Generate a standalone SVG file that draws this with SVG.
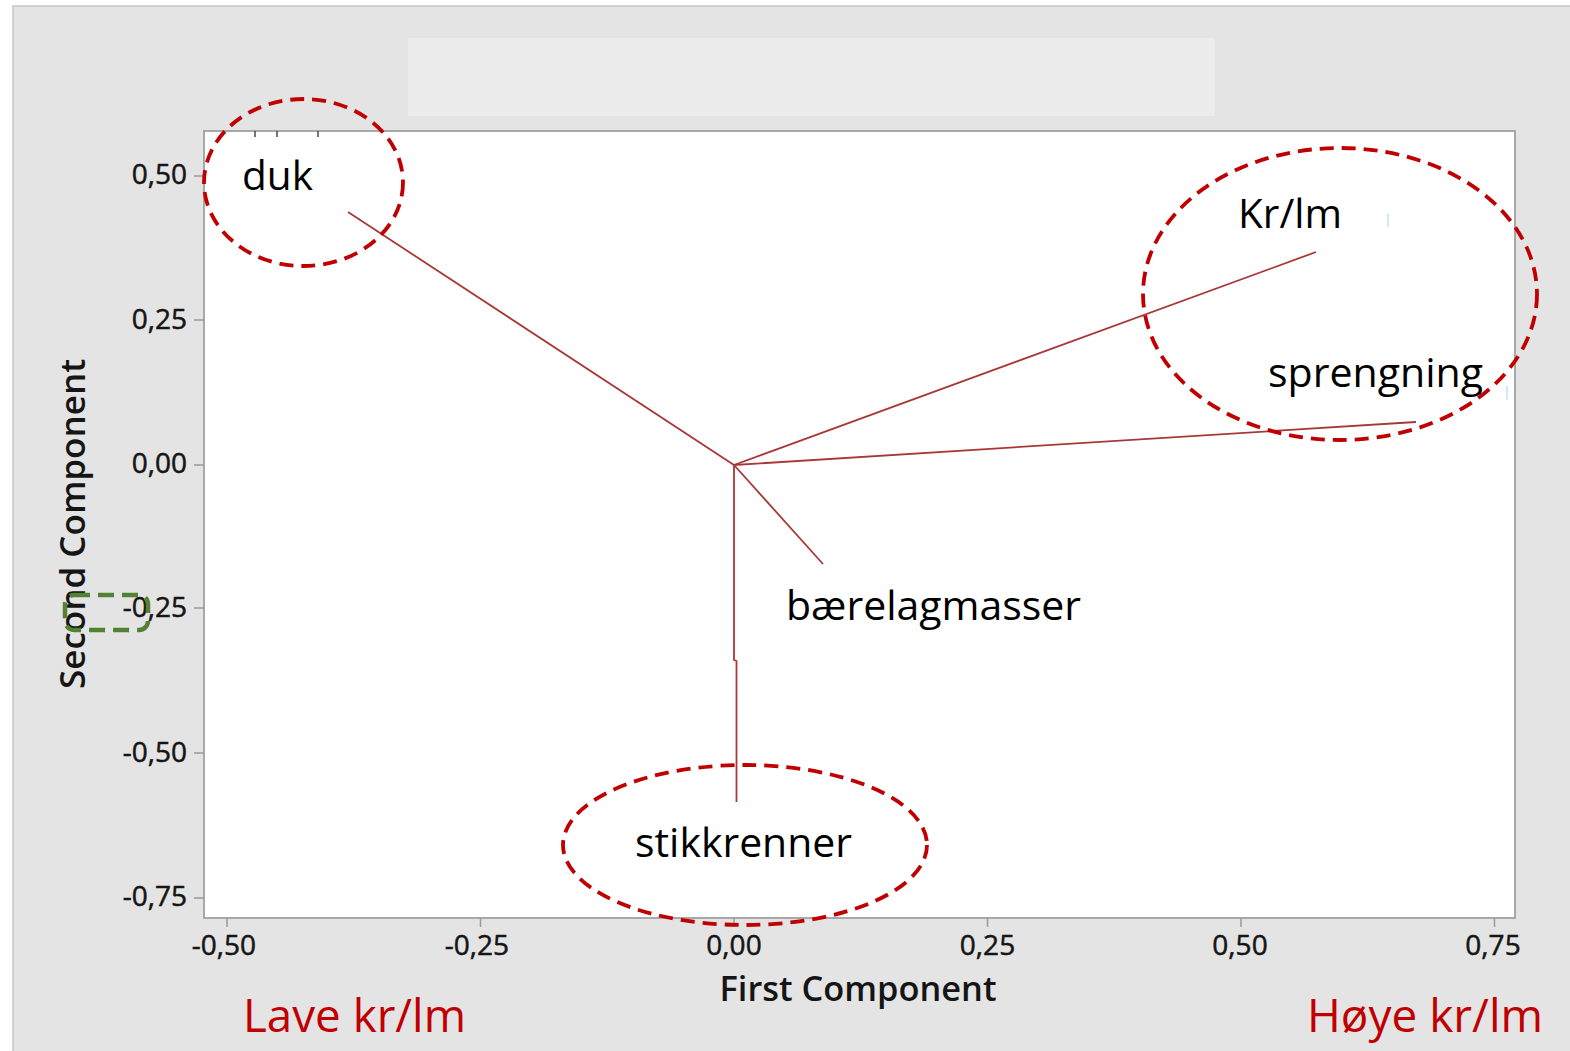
<svg xmlns="http://www.w3.org/2000/svg" width="1570" height="1051" viewBox="0 0 1570 1051">
<style>
.tick{stroke:#9a9a9a;stroke-width:1.5;fill:none}
.tl{font-family:"Open Sans","DejaVu Sans",sans-serif;font-size:28px;fill:#151515;stroke:#151515;stroke-width:0.5}
.tly{text-anchor:end}
.tlx{text-anchor:middle}
.axt{font-family:"Open Sans","DejaVu Sans",sans-serif;font-size:34px;font-weight:600;fill:#151515}
.load{stroke:#a83838;stroke-width:1.8;fill:none}
.lab{font-family:"Open Sans","Lato","DejaVu Sans",sans-serif;font-size:40px;fill:#000}
.ell{fill:none;stroke:#c00000;stroke-width:3.8;stroke-dasharray:14 8}
.red{font-family:"Open Sans","Lato","DejaVu Sans",sans-serif;font-size:45px;fill:#c00000}
</style>
<rect x="0" y="0" width="1570" height="1051" fill="#ffffff"/>
<rect x="13" y="6" width="1570" height="1060" fill="#e4e4e4" stroke="#c8c8c8" stroke-width="1.5"/>
<rect x="408" y="38" width="807" height="78" fill="#ececec"/>
<rect id="plotarea" x="204" y="131" width="1311" height="787" fill="#ffffff" stroke="#a0a0a0" stroke-width="1.8"/>
<g id="artifacts" stroke="#4a3f6e" stroke-width="1.5">
<line x1="255" y1="131" x2="255" y2="137"/>
<line x1="277" y1="131" x2="277" y2="137"/>
<line x1="318" y1="131" x2="318" y2="137"/>
</g>
<g id="yaxis">
<line class="tick" x1="194" y1="176" x2="204" y2="176"/>
<line class="tick" x1="194" y1="320" x2="204" y2="320"/>
<line class="tick" x1="194" y1="465" x2="204" y2="465"/>
<line class="tick" x1="194" y1="608" x2="204" y2="608"/>
<line class="tick" x1="194" y1="753" x2="204" y2="753"/>
<line class="tick" x1="194" y1="898" x2="204" y2="898"/>
<text class="tl tly" x="187" y="184">0,50</text>
<text class="tl tly" x="187" y="329">0,25</text>
<text class="tl tly" x="187" y="473">0,00</text>
<text class="tl tly" x="187" y="617">-0,25</text>
<text class="tl tly" x="187" y="762">-0,50</text>
<text class="tl tly" x="187" y="906">-0,75</text>
<text class="axt" transform="translate(85,524) rotate(-90)" text-anchor="middle" textLength="330" lengthAdjust="spacingAndGlyphs">Second Component</text>
</g>
<g id="xaxis">
<line class="tick" x1="227" y1="918" x2="227" y2="927"/>
<line class="tick" x1="480.5" y1="918" x2="480.5" y2="927"/>
<line class="tick" x1="734" y1="918" x2="734" y2="927"/>
<line class="tick" x1="987.5" y1="918" x2="987.5" y2="927"/>
<line class="tick" x1="1241" y1="918" x2="1241" y2="927"/>
<line class="tick" x1="1494.5" y1="918" x2="1494.5" y2="927"/>
<text class="tl tlx" x="224" y="955">-0,50</text>
<text class="tl tlx" x="477" y="955">-0,25</text>
<text class="tl tlx" x="734" y="955">0,00</text>
<text class="tl tlx" x="987.5" y="955">0,25</text>
<text class="tl tlx" x="1240" y="955">0,50</text>
<text class="tl tlx" x="1493" y="955">0,75</text>
<text class="axt" x="858" y="1001" text-anchor="middle" textLength="277" lengthAdjust="spacingAndGlyphs">First Component</text>
</g>
<g id="connectors">
<line class="load" x1="734" y1="465" x2="348" y2="212"/>
<line class="load" x1="734" y1="465" x2="1316" y2="252"/>
<line class="load" x1="734" y1="465" x2="1416" y2="422"/>
<line class="load" x1="734" y1="465" x2="823" y2="564"/>
<polyline class="load" points="734,465 734,660 736.5,661 736.5,802"/>
</g>
<g id="textboxes" fill="#ffffff">
<rect x="1216" y="176" width="172" height="56"/>
<rect x="1252" y="345" width="255" height="62"/>
<line x1="1388" y1="214" x2="1388" y2="227" stroke="#bfe2f5" stroke-width="1.5"/>
<line x1="1507" y1="386" x2="1507" y2="400" stroke="#bfe2f5" stroke-width="1.5"/>
</g>
<g id="duk">
<ellipse class="ell" cx="303.5" cy="182.5" rx="99.5" ry="83.5"/>
<text class="lab" x="242" y="190" textLength="71" lengthAdjust="spacingAndGlyphs">duk</text>
</g>
<g id="krlm">
<text class="lab" x="1238" y="228" textLength="104" lengthAdjust="spacingAndGlyphs">Kr/lm</text>
</g>
<g id="sprengning">
<text class="lab" x="1268" y="387" textLength="215" lengthAdjust="spacingAndGlyphs">sprengning</text>
</g>
<g id="krlm-sprengning-ring">
<ellipse class="ell" cx="1340" cy="294" rx="197" ry="146"/>
</g>
<g id="baerelagmasser">
<text class="lab" x="786" y="620" textLength="295" lengthAdjust="spacingAndGlyphs">bærelagmasser</text>
</g>
<g id="stikkrenner">
<ellipse class="ell" cx="745" cy="845" rx="182" ry="80"/>
<text class="lab" x="635" y="857" textLength="217" lengthAdjust="spacingAndGlyphs">stikkrenner</text>
</g>
<g id="green-marker">
<rect x="65" y="595" width="83" height="35" rx="9" ry="9" fill="none" stroke="#548235" stroke-width="4.5" stroke-dasharray="16 8"/>
</g>
<g id="range-labels">
<text class="red" x="243" y="1032" textLength="223" lengthAdjust="spacingAndGlyphs">Lave kr/lm</text>
<text class="red" x="1307" y="1032" textLength="236" lengthAdjust="spacingAndGlyphs">Høye kr/lm</text>
</g>
</svg>
